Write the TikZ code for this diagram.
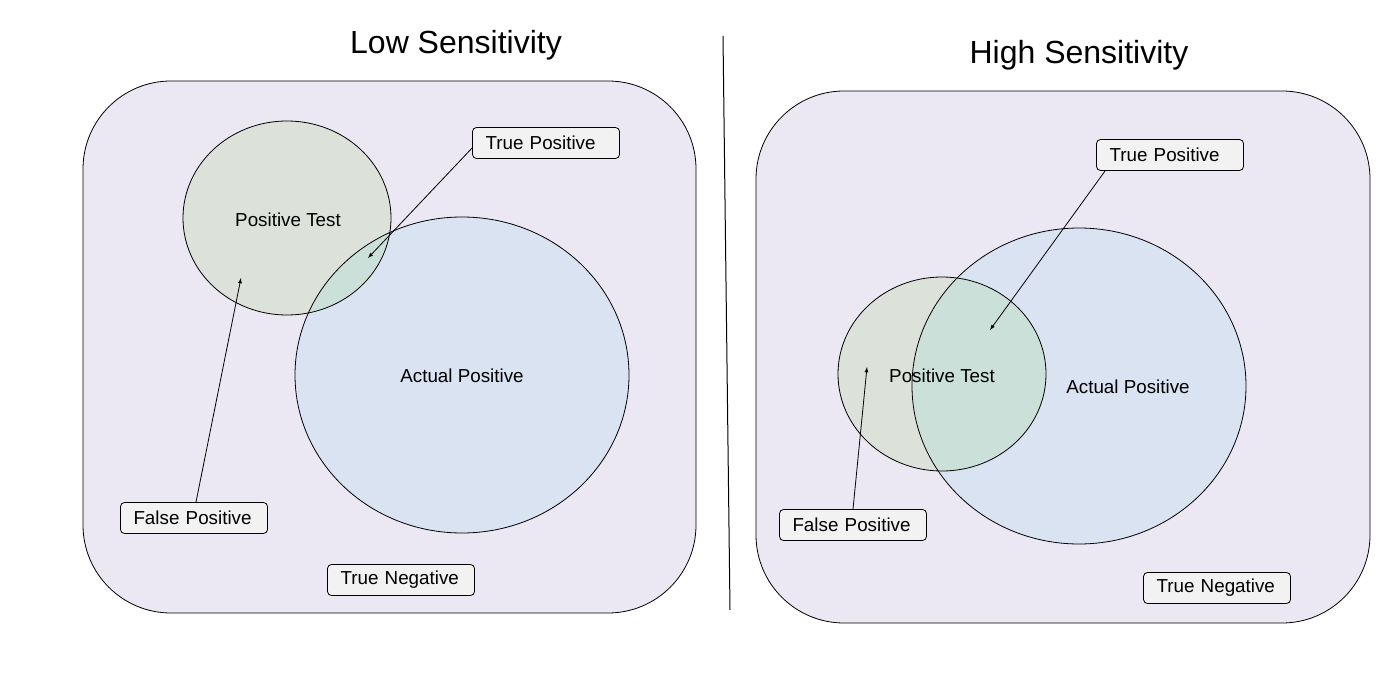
\documentclass[tikz,border=0pt]{standalone}
\usepackage{fontspec}
\setmainfont{Liberation Sans}
\usetikzlibrary{arrows}
\definecolor{panel}{HTML}{EBE7F3}
\definecolor{testcol}{HTML}{DCE2DA}
\definecolor{actualcol}{HTML}{DAE3F2}
\definecolor{bothcol}{HTML}{CCE0DA}
\definecolor{tagcol}{HTML}{F2F2F2}

\begin{document}
\begin{tikzpicture}[x=1pt,y=-1pt,
  lbl/.style={font=\fontsize{18.8}{21}\selectfont},
  title/.style={font=\fontsize{32}{36}\selectfont},
  tag/.style={lbl, draw, line width=0.8pt, fill=tagcol, rounded corners=4pt, text width=121pt, align=left, inner xsep=13pt, minimum height=31pt},
  blob/.style={draw, line width=0.8pt},
  pointer/.style={-latex, line width=0.8pt}]
\useasboundingbox (0,0) rectangle (1384,695);

% titles and divider
\node[title] (lowT) at (456,45) {Low Sensitivity};
\node[title] (highT) at (1079,55) {High Sensitivity};
\draw[line width=1pt] (723,36) -- (730,610);

% low sensitivity
\draw[blob, fill=panel, rounded corners=88pt] (83,81) rectangle (696,613);
\fill[actualcol] (462,375) ellipse [x radius=167, y radius=158];
\fill[testcol] (287,218) ellipse [x radius=104, y radius=97];
\begin{scope}
  \clip (287,218) ellipse [x radius=104, y radius=97];
  \fill[bothcol] (462,375) ellipse [x radius=167, y radius=158];
\end{scope}
\draw[blob] (462,375) ellipse [x radius=167, y radius=158];
\draw[blob] (287,218) ellipse [x radius=104, y radius=97];
\node[lbl] (testL) at (288,220) {Positive Test};
\node[lbl] (actualL) at (462,376) {Actual Positive};
\node[tag] (tpL) at (546,143) {True Positive};
\node[tag] (fpL) at (194,518) {False Positive};
\node[tag] (tnL) at (401,580) {True Negative};
\coordinate (tpLtip) at (368,258);
\coordinate (fpLtip) at (241,278);
\draw[pointer] ([yshift=-5pt]tpL.west) -- (tpLtip);
\draw[pointer] ([xshift=2pt]fpL.north) -- (fpLtip);

% high sensitivity
\draw[blob, fill=panel, rounded corners=88pt] (756,91) rectangle (1370,623);
\fill[actualcol] (1079,386) ellipse [x radius=167, y radius=158];
\fill[testcol] (942,374) ellipse [x radius=104, y radius=97];
\begin{scope}
  \clip (942,374) ellipse [x radius=104, y radius=97];
  \fill[bothcol] (1079,386) ellipse [x radius=167, y radius=158];
\end{scope}
\draw[blob] (1079,386) ellipse [x radius=167, y radius=158];
\draw[blob] (942,374) ellipse [x radius=104, y radius=97];
\node[lbl] (testR) at (942,376) {Positive Test};
\node[lbl] (actualR) at (1128,387) {Actual Positive};
\node[tag] (tpR) at (1170,155) {True Positive};
\node[tag] (fpR) at (853,525) {False Positive};
\node[tag] (tnR) at (1217,588) {True Negative};
\coordinate (tpRtip) at (990,330);
\coordinate (fpRtip) at (867,367);
\draw[pointer] ([xshift=9pt]tpR.south west) -- (tpRtip);
\draw[pointer] (fpR.north) -- (fpRtip);
\end{tikzpicture}
\end{document}
